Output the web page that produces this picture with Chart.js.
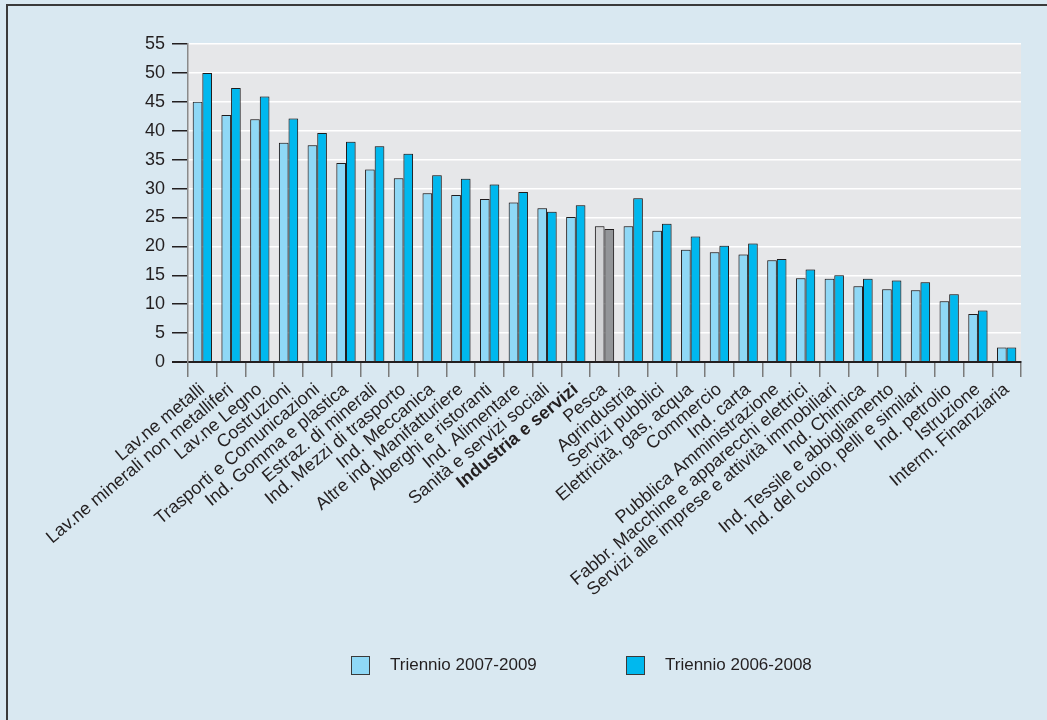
<!DOCTYPE html>
<html>
<head>
<meta charset="utf-8">
<script src="https://cdn.jsdelivr.net/npm/chart.js@4/dist/chart.umd.min.js"></script>
<style>
  html, body { margin: 0; padding: 0; background: #d9e8f1; }
  #wrap { position: relative; width: 1047px; height: 720px; overflow: hidden; }
  #frame {
    position: absolute; left: 6px; top: 4px; right: -10px; bottom: -10px;
    border-top: 2px solid #3a3a3a; border-left: 2px solid #3a3a3a;
  }
  #box { position: absolute; left: 0; top: 0; width: 1047px; height: 720px; }
  .leg {
    position: absolute; top: 655px; height: 20px; line-height: 20px;
    font-family: 'Liberation Sans', Arial, sans-serif; font-size: 17px; color: #231f20;
  }
  .leg span {
    position: absolute; left: 0; top: 1px; width: 17px; height: 17px;
    border: 1px solid #3a3a3a; box-sizing: content-box;
  }
  .leg b { position: absolute; left: 39px; top: 0; white-space: nowrap; font-weight: normal; }
</style>
</head>
<body>
<div id="wrap">
  <div id="frame"></div>
  <div id="box"><canvas id="chart"></canvas></div>
  <div class="leg" style="left:351px"><span style="background:#8fd8f6"></span><b>Triennio 2007-2009</b></div>
  <div class="leg" style="left:626px"><span style="background:#00b8ee"></span><b>Triennio 2006-2008</b></div>
</div>
<script>
const categories = [
  'Lav.ne metalli', 'Lav.ne minerali non metalliferi', 'Lav.ne Legno', 'Costruzioni',
  'Trasporti e Comunicazioni', 'Ind. Gomma e plastica', 'Estraz. di minerali',
  'Ind. Mezzi di trasporto', 'Ind. Meccanica', 'Altre ind. Manifatturiere',
  'Alberghi e ristoranti', 'Ind. Alimentare', 'Sanità e servizi sociali',
  'Industria e servizi', 'Pesca', 'Agrindustria', 'Servizi pubblici',
  'Elettricità, gas, acqua', 'Commercio', 'Ind. carta', 'Pubblica Amministrazione',
  'Fabbr. Macchine e apparecchi elettrici', 'Servizi alle imprese e attività immobiliari',
  'Ind. Chimica', 'Ind. Tessile e abbigliamento', 'Ind. del cuoio, pelli e similari',
  'Ind. petrolio', 'Istruzione', 'Interm. Finanziaria',
];
const triennio0709 = [
  45.0, 42.7, 42.0, 37.9, 37.5, 34.4, 33.3, 31.8, 29.2, 28.9,
  28.2, 27.6, 26.6, 25.1, 23.5, 23.5, 22.7, 19.4, 19.0, 18.6,
  17.6, 14.5, 14.4, 13.1, 12.6, 12.4, 10.5, 8.3, 2.5,
];
const triennio0608 = [
  50.0, 47.4, 45.9, 42.1, 39.6, 38.1, 37.3, 36.0, 32.3, 31.7,
  30.7, 29.4, 26.0, 27.1, 23.0, 28.3, 23.9, 21.7, 20.1, 20.5,
  17.8, 16.0, 15.0, 14.4, 14.1, 13.8, 11.7, 8.9, 2.5,
];
const yTicks = { min: 0, max: 55, step: 5 };

const greyCategory = 'Pesca';
const boldCategory = 'Industria e servizi';
const textColor = '#231f20';
const fontFamily = "'Liberation Sans', Arial, Helvetica, sans-serif";

function barColor(normal, grey) {
  return (ctx) => (categories[ctx.dataIndex] === greyCategory ? grey : normal);
}

// grey plot area + soft shadow under the bars
const plotBg = {
  id: 'plotBg',
  beforeDraw(chart) {
    const { ctx, chartArea: a } = chart;
    ctx.save();
    ctx.fillStyle = '#e6e7e9';
    ctx.fillRect(a.left, a.top, a.right - a.left, a.bottom - a.top);
    ctx.restore();
  },
  beforeDatasetsDraw(chart) {
    const { ctx } = chart;
    ctx.save();
    ctx.shadowColor = 'rgba(0, 0, 0, 0.35)';
    ctx.shadowBlur = 2;
  },
  afterDatasetsDraw(chart) {
    chart.ctx.restore();
  },
};

new Chart(document.getElementById('chart'), {
  type: 'bar',
  data: {
    labels: categories,
    datasets: [
      {
        label: 'Triennio 2007-2009',
        data: triennio0709,
        backgroundColor: barColor('#8fd8f6', '#d2d3d5'),
        borderColor: '#231f20',
        borderWidth: 1,
      },
      {
        label: 'Triennio 2006-2008',
        data: triennio0608,
        backgroundColor: barColor('#00b8ee', '#939598'),
        borderColor: '#231f20',
        borderWidth: 1,
      },
    ],
  },
  options: {
    responsive: true,
    maintainAspectRatio: false,
    animation: false,
    layout: { padding: { top: 44, right: 26, left: 0, bottom: 0 } },
    datasets: { bar: { categoryPercentage: 0.67, barPercentage: 1 } },
    plugins: {
      legend: { display: false },
      tooltip: { enabled: false },
    },
    scales: {
      x: {
        afterFit: (scale) => { scale.height = 358; },
        grid: {
          drawOnChartArea: false,
          color: '#7a7a7a',
          tickLength: 15,
          lineWidth: 1.5,
        },
        border: { color: textColor, width: 2 },
        ticks: {
          autoSkip: false,
          minRotation: 40,
          maxRotation: 40,
          padding: 2,
          color: textColor,
          font: (ctx) => ({
            family: fontFamily,
            size: 18,
            weight: categories[ctx.index] === boldCategory ? 'bold' : 'normal',
          }),
        },
      },
      y: {
        min: yTicks.min,
        max: yTicks.max,
        afterFit: (scale) => { scale.width = 188; },
        grid: {
          color: (ctx) => (ctx.tick && ctx.tick.value === 0 ? textColor : '#ffffff'),
          lineWidth: (ctx) => (ctx.tick && ctx.tick.value === 0 ? 2 : 1.5),
          tickColor: textColor,
          tickLength: 16,
        },
        border: { color: '#8a8a8a', width: 1.5 },
        ticks: {
          stepSize: yTicks.step,
          padding: 7,
          color: textColor,
          font: { family: fontFamily, size: 18 },
        },
      },
    },
  },
  plugins: [plotBg],
});
</script>
</body>
</html>
